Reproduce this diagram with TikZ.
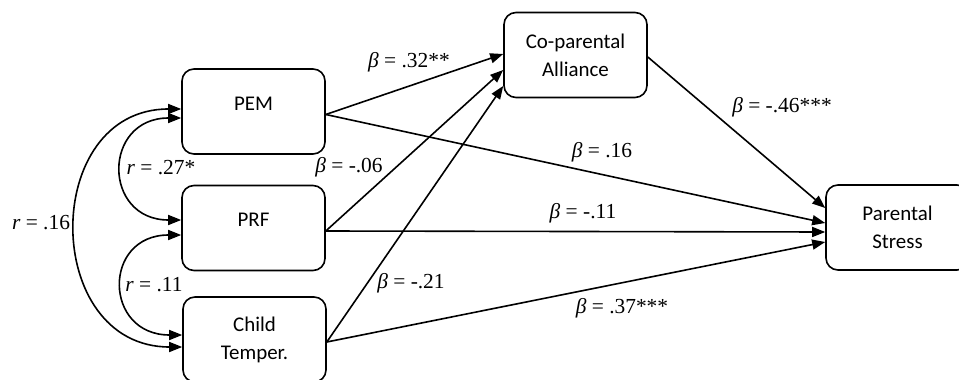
\documentclass[tikz,border=0pt]{standalone}
\usepackage{fontspec}
\setmainfont{Liberation Serif}
\newfontfamily\boxfont{Carlito}
\usetikzlibrary{arrows.meta}

\begin{document}
\begin{tikzpicture}[x=1bp, y=1bp,
    var/.style={draw, line width=1.6bp, rounded corners=12bp, minimum width=143bp, minimum height=85bp,
        inner sep=0pt, align=center, font=\boxfont\fontsize{21}{28}\selectfont},
    oneline/.style={text depth=16bp},
    coef/.style={inner sep=0pt, font=\fontsize{21.5}{25}\selectfont},
    effect/.style={line width=1.6bp, -{Triangle[length=13bp, width=10bp]}},
    corr/.style={line width=1.6bp, {Triangle[length=13bp, width=10bp]}-{Triangle[length=13bp, width=10bp]}}]
        % Okvir slike
        \useasboundingbox (0,0) rectangle (959,379);

        % Varijable (boxes)
        \node[var, oneline] (pem) at (253.5, 267.5) {PEM};
        \node[var, oneline] (prf) at (253.5, 151) {PRF};
        \node[var] (child) at (254.5, 39.5) {Child\\Temper.};
        \node[var] (co) at (575.5, 324) {Co-parental\\Alliance};
        \node[var] (ps) at (897.5, 151.5) {Parental\\Stress};

        % Korelacije (left side)
        \draw[corr] ([yshift=2.5bp]pem.west) .. controls +(-141,0) and +(-141,0) .. ([yshift=-7.5bp]child.west);
        \draw[corr] ([yshift=-6.5bp]pem.west) .. controls +(-79,0) and +(-79,0) .. ([yshift=8bp]prf.west);
        \draw[corr] ([yshift=-7bp]prf.west) .. controls +(-79,0) and +(-79,0) .. ([yshift=4.5bp]child.west);

        % Putevi prema Co-parental Alliance
        \draw[effect] ([yshift=-3bp]pem.east) -- ([yshift=1bp]co.west);
        \draw[effect] ([yshift=-3bp]prf.east) -- ([yshift=-15bp]co.west);
        \draw[effect] ([yshift=-2.5bp]child.east) -- ([yshift=-31bp]co.west);

        % Putevi prema Parental Stress
        \draw[effect] ([yshift=-2bp]co.east) -- ([yshift=19.5bp]ps.west);
        \draw[effect] ([yshift=-3bp]pem.east) -- ([yshift=4.5bp]ps.west);
        \draw[effect] ([yshift=-3bp]prf.east) -- ([yshift=-4.5bp]ps.west);
        \draw[effect] ([yshift=-2.5bp]child.east) -- ([yshift=-14.5bp]ps.west);

        % Koeficijenti
        \node[coef] (r16) at (41, 156) {\textit{r} = .16};
        \node[coef] (r27) at (161, 211) {\textit{r} = .27*};
        \node[coef] (r11) at (154, 94) {\textit{r} = .11};
        \node[coef] (b32) at (409, 317) {\textit{β} = .32**};
        \node[coef] (b06) at (349, 212) {\textit{β} = -.06};
        \node[coef] (b21) at (411, 96) {\textit{β} = -.21};
        \node[coef] (b16) at (602, 227) {\textit{β} = .16};
        \node[coef] (b11) at (583, 166) {\textit{β} = -.11};
        \node[coef] (b37) at (622, 71) {\textit{β} = .37***};
        \node[coef] (b46) at (782, 272) {\textit{β} = -.46***};

    \end{tikzpicture}
\end{document}
